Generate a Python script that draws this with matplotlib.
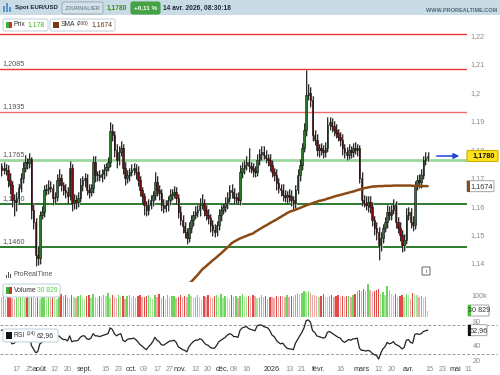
import numpy as np
import pandas as pd
import matplotlib.pyplot as plt
from matplotlib.patches import Rectangle, FancyBboxPatch, FancyArrowPatch
from matplotlib.transforms import IdentityTransform

plt.rcParams['font.family'] = ['Liberation Sans', 'DejaVu Sans']

# Daily EUR/USD closes (jul 2025 -> 14 apr 2026)
close = [
    1.1731, 1.1738, 1.1731, 1.1696, 1.1678, 1.1625, 1.1618, 1.1632, 1.1667, 1.1703,
    1.1738, 1.1759, 1.1755, 1.1768, 1.1590, 1.1548, 1.1432, 1.1421, 1.1572, 1.1583,
    1.1660, 1.1665, 1.1671, 1.1667, 1.1632, 1.1636, 1.1696, 1.1703, 1.1678, 1.1660,
    1.1653, 1.1639, 1.1738, 1.1615, 1.1625, 1.1618, 1.1632, 1.1678, 1.1696, 1.1703,
    1.1660, 1.1653, 1.1667, 1.1759, 1.1713, 1.1713, 1.1706, 1.1718, 1.1731, 1.1741,
    1.1759, 1.1868, 1.1854, 1.1801, 1.1766, 1.1794, 1.1808, 1.1738, 1.1703, 1.1713,
    1.1724, 1.1731, 1.1738, 1.1724, 1.1696, 1.1660, 1.1639, 1.1608,
    1.1590, 1.1608, 1.1625, 1.1643, 1.1689, 1.1660, 1.1650, 1.1608, 1.1597, 1.1608,
    1.1625, 1.1643, 1.1648, 1.1653, 1.1632, 1.1583, 1.1555, 1.1534, 1.1513, 1.1491,
    1.1527, 1.1555, 1.1572, 1.1583, 1.1590, 1.1608, 1.1615, 1.1590, 1.1572, 1.1562,
    1.1537, 1.1520, 1.1513, 1.1537, 1.1572, 1.1590, 1.1601, 1.1615, 1.1632, 1.1660,
    1.1653, 1.1632, 1.1632, 1.1625, 1.1724, 1.1738, 1.1748, 1.1759, 1.1745, 1.1738,
    1.1731, 1.1724, 1.1766, 1.1787, 1.1794, 1.1784, 1.1773, 1.1766, 1.1748, 1.1724,
    1.1713, 1.1685, 1.1667, 1.1660, 1.1643, 1.1636, 1.1643, 1.1639,
    1.1625, 1.1615, 1.1660, 1.1713, 1.1748, 1.1808, 1.1871, 1.1994, 1.2002, 1.1977,
    1.1854, 1.1836, 1.1801, 1.1808, 1.1800, 1.1794, 1.1808, 1.1889, 1.1900, 1.1885,
    1.1871, 1.1861, 1.1847, 1.1836, 1.1808, 1.1794, 1.1784, 1.1801, 1.1794, 1.1808,
    1.1801, 1.1808, 1.1703, 1.1625, 1.1615, 1.1608, 1.1618, 1.1601, 1.1555, 1.1527,
    1.1513, 1.1467, 1.1491, 1.1527, 1.1548, 1.1583, 1.1572, 1.1590, 1.1608, 1.1548,
    1.1527, 1.1502, 1.1467, 1.1484, 1.1572, 1.1583, 1.1548, 1.1537, 1.1678, 1.1696,
    1.1689, 1.1713, 1.1766, 1.1773, 1.1780,
]
first_open = 1.1745

# upper / lower wick lengths in pips
up_wick = [
    12, 20, 15, 18, 25, 15, 20, 22, 15, 18,
    20, 25, 15, 22, 10, 20, 15, 30, 15, 20,
    18, 15, 25, 22, 15, 18, 20, 30, 15, 12, 20,
    18, 25, 15, 20, 18, 22, 25, 15, 18, 12,
    20, 15, 20, 22, 15, 18, 15, 20, 15, 18, 30,
    25, 15, 20, 22, 25, 15, 20, 18, 15, 20,
    18, 15, 20, 15, 12, 10,
    15, 20, 18, 15, 35, 20, 18, 15, 20, 18,
    15, 20, 15, 22, 18, 15, 20, 18, 15, 12, 20,
    18, 15, 20, 18, 25, 30, 15, 18, 20, 15,
    18, 20, 15, 20, 18, 15, 20, 22, 18, 20,
    15, 18, 20, 25, 22, 18, 20, 49, 15, 18, 15,
    20, 18, 22, 20, 18, 15, 20, 18, 15, 20,
    18, 15, 20, 18, 15, 20,
    20, 15, 18, 20, 22, 18, 25, 88, 30, 20,
    15, 18, 20, 15, 18, 18, 20, 28, 17, 15, 18,
    20, 15, 18, 20, 15, 18, 20, 15, 18, 20,
    15, 10, 20, 18, 25, 20, 22, 18, 15, 20,
    18, 20, 15, 18, 25, 20, 18, 22, 15, 18, 20,
    18, 20, 25, 18, 15, 20, 15, 18, 20, 22,
    15, 20, 15,
]
dn_wick = [
    20, 15, 18, 25, 30, 25, 50, 30, 20, 15,
    18, 15, 20, 18, 30, 25, 40, 25, 20, 15,
    18, 18, 20, 15, 25, 18, 15, 20, 22, 18, 20,
    25, 15, 30, 20, 25, 18, 15, 20, 25, 18,
    20, 15, 18, 25, 20, 15, 18, 18, 20, 15, 18,
    20, 25, 30, 18, 15, 22, 25, 18, 20, 15,
    18, 25, 20, 22, 25, 35,
    20, 18, 15, 22, 18, 20, 25, 20, 18, 15,
    20, 18, 18, 15, 22, 20, 18, 25, 20, 22, 15,
    18, 20, 15, 18, 20, 15, 22, 18, 20, 25,
    20, 18, 15, 18, 20, 15, 18, 20, 15, 22,
    20, 18, 15, 18, 20, 22, 18, 20, 18, 25, 18,
    15, 18, 20, 15, 18, 20, 22, 18, 20, 25,
    18, 20, 22, 18, 20, 22,
    22, 20, 18, 15, 20, 18, 15, 20, 18, 25,
    20, 18, 22, 25, 18, 20, 18, 15, 18, 20, 22,
    18, 15, 20, 25, 22, 18, 15, 20, 18, 15,
    20, 18, 20, 15, 18, 25, 20, 22, 25, 30,
    53, 20, 18, 15, 20, 18, 18, 15, 20, 18, 20,
    25, 22, 15, 18, 20, 22, 15, 18, 20, 22,
    15, 18, 12,
]

# volume in thousands
volume = [
    96, 104, 88, 100, 108, 92, 84, 102, 95, 106,
    99, 90, 103, 96, 110, 104, 92, 106, 88, 99,
    101, 94, 105, 90, 100, 97, 86, 93, 108, 99,
    103, 95, 91, 104, 97, 89, 100, 106, 95, 87,
    99, 103, 92, 108, 96, 90, 100, 94, 106, 99,
    112, 92, 103, 97, 90, 105, 96, 101, 88, 99,
    106, 95, 102, 91, 98, 104, 93, 97,
    99, 105, 95, 88, 103, 97, 108, 92, 100, 86,
    104, 96, 99, 102, 90, 97, 107, 94, 101, 93,
    108, 98, 89, 96, 104, 95, 87, 101, 93, 106,
    97, 90, 99, 103, 95, 109, 92, 100, 97, 86,
    104, 95, 99, 90, 102, 110, 97, 93, 101, 96,
    105, 99, 91, 97, 103, 95, 100, 88, 97, 94,
    92, 101, 96, 100, 98, 94, 103, 97,
    101, 96, 106, 114, 110, 116, 122, 118, 124, 112,
    106, 103, 100, 97, 101, 108, 96, 95, 100, 104,
    94, 99, 104, 96, 102, 93, 98, 101, 96, 105,
    108, 126, 130, 124, 132, 122, 158, 128, 117, 123,
    128, 134, 110, 119, 104, 150, 127, 110, 100, 108,
    95, 100, 104, 97, 108, 103, 88, 112, 109, 104,
    97, 101, 89, 96, 30.829,
]

rsi = [
    63, 62, 58, 52, 48, 44, 45, 48, 52, 56,
    59, 61, 60, 63, 42, 37, 32, 33, 44, 46,
    51, 52, 52, 52, 49, 49, 54, 55, 52, 50, 50,
    48, 55, 47, 48, 48, 49, 53, 55, 55, 51,
    50, 52, 58, 55, 55, 54, 55, 56, 57, 58, 66,
    64, 58, 55, 57, 58, 49, 47, 50, 51, 51,
    52, 50, 47, 43, 41, 38,
    36, 40, 43, 47, 53, 49, 47, 43, 42, 44,
    46, 48, 48, 49, 46, 40, 38, 36, 35, 33, 40,
    44, 47, 49, 49, 51, 50, 46, 43, 42, 39,
    38, 38, 42, 47, 49, 51, 53, 56, 58, 57,
    54, 54, 53, 63, 66, 67, 68, 65, 64, 63, 62,
    69, 70, 70, 68, 67, 66, 62, 56, 54, 49,
    46, 44, 45, 41, 38, 37,
    37, 36, 45, 50, 55, 60, 66, 76, 77, 74,
    62, 60, 55, 54, 53, 52, 53, 60, 61, 59, 57,
    55, 53, 52, 48, 46, 48, 50, 49, 51, 51,
    52, 38, 35, 35, 34, 35, 34, 31, 29, 28,
    23, 31, 37, 40, 46, 44, 45, 47, 43, 42, 40,
    37, 39, 49, 50, 46, 45, 57, 58, 57, 58,
    61, 62, 62.96,
]

# SMA(200), visible part only (last 114 sessions)
sma_vals = [
    1.1326, 1.1332, 1.1337, 1.1345, 1.1353, 1.1361, 1.1370, 1.1379, 1.1386, 1.1392,
    1.1399, 1.1405, 1.1412, 1.1418, 1.1424, 1.1431, 1.1437, 1.1444, 1.1451, 1.1458,
    1.1465, 1.1473, 1.1478, 1.1482, 1.1486, 1.1490, 1.1493, 1.1496, 1.1499, 1.1502, 1.1505,
    1.1507, 1.1513, 1.1517, 1.1522, 1.1526, 1.1531, 1.1535, 1.1539, 1.1544, 1.1548,
    1.1552, 1.1556, 1.1561, 1.1565, 1.1570, 1.1574, 1.1579, 1.1583, 1.1586, 1.1588,
    1.1591, 1.1594, 1.1597, 1.1600, 1.1603, 1.1606, 1.1609, 1.1611, 1.1614, 1.1617,
    1.1619, 1.1622, 1.1623, 1.1625, 1.1627, 1.1630, 1.1632, 1.1634, 1.1637, 1.1639, 1.1641,
    1.1643, 1.1645, 1.1647, 1.1649, 1.1651, 1.1653, 1.1655, 1.1657, 1.1660, 1.1662,
    1.1664, 1.1666, 1.1668, 1.1669, 1.1671, 1.1672, 1.1673, 1.1673, 1.1674, 1.1674,
    1.1674, 1.1675, 1.1675, 1.1675, 1.1675, 1.1676, 1.1676, 1.1676, 1.1676, 1.1676,
    1.1676, 1.1676, 1.1676, 1.1676, 1.1675,
    1.1675, 1.1675, 1.1675, 1.1674, 1.1674, 1.1674, 1.1674,
]

# horizontal levels drawn on the chart
levels = [1.2210, 1.2085, 1.1935, 1.1765, 1.1610, 1.1460]
level_labels = ['', '1,2085', '1,1935', '1,1765', '1,1610', '1,1460']
level_colors = ['#e8383a', '#e8383a', '#f06a6a', '#9ad89a', '#1f6e1f', '#1f6e1f']
level_widths = [1.0, 1.0, 1.0, 2.0, 1.3, 1.3]

price_ticks = [1.14, 1.15, 1.16, 1.17, 1.18, 1.19, 1.20, 1.21, 1.22]
price_tick_labels = ['1,14', '1,15', '1,16', '1,17', '1,18', '1,19', '1,2', '1,21', '1,22']

date_ticks = ['2025-07-17', '2025-07-25', '2025-08-01', '2025-08-12', '2025-08-20',
              '2025-09-01', '2025-09-15', '2025-09-23', '2025-10-01', '2025-10-09',
              '2025-10-17', '2025-10-27', '2025-11-03', '2025-11-12', '2025-11-20',
              '2025-12-01', '2025-12-08', '2025-12-16', '2026-01-01', '2026-01-13',
              '2026-01-21', '2026-02-02', '2026-02-16', '2026-03-02', '2026-03-12',
              '2026-03-20', '2026-04-01', '2026-04-15', '2026-04-23', '2026-05-01',
              '2026-05-11']
date_labels = ['17', '25', 'août', '12', '20', 'sept.', '15', '23', 'oct.', '09',
               '17', '27', 'nov.', '12', '20', 'déc.', '08', '16', '2026', '13',
               '21', 'févr.', '16', 'mars', '12', '20', 'avr.', '15', '23', 'mai', '11']
month_names = {'août', 'sept.', 'oct.', 'nov.', 'déc.', '2026', 'févr.', 'mars', 'avr.', 'mai'}

# ---------------------------------------------------------------
close = np.array(close)
n = len(close)
opens = np.r_[first_open, close[:-1]]
highs = np.maximum(opens, close) + np.array(up_wick) / 10000
lows = np.minimum(opens, close) - np.array(dn_wick) / 10000
volume = np.array(volume, dtype=float)
rsi = np.array(rsi, dtype=float)
sma = np.r_[np.full(n - len(sma_vals), np.nan), sma_vals]
x = np.arange(n)

sessions = pd.bdate_range(end='2026-04-14', periods=n)
calendar = pd.bdate_range(start=sessions[0], end='2026-05-29')

W, H = 500, 375
PX = IdentityTransform()
FS = 5.2      # axis text size
fig = plt.figure(figsize=(5, 3.75), dpi=100)

x_left, x_right = -0.7, 218.5
ax = fig.add_axes([0, (H - 282) / H, 467 / W, (282 - 16) / H])
axv = fig.add_axes([0, (H - 318) / H, 467 / W, 36 / H])
axr = fig.add_axes([0, (H - 362) / H, 467 / W, 44 / H])
for a in (ax, axv, axr):
    a.set_xlim(x_left, x_right)
    a.set_xticks([])
    a.set_yticks([])
    for s in a.spines.values():
        s.set_visible(False)
    a.patch.set_alpha(0)

ax.set_ylim(1.13367, 1.22724)
axv.set_ylim(-4.8, 166.7)
axr.set_ylim(18.97, 79.66)

# header bar
fig.add_artist(Rectangle((0, H - 15), W, 15, transform=PX, fc='#c9dbe5', ec='none', zorder=1))


def rbox(x0, y0, x1, y1, fc='white', ec='#c5d5de', r=2, lw=0.8, z=5):
    fig.add_artist(FancyBboxPatch((x0, H - y1), x1 - x0, y1 - y0,
                                  boxstyle=f'round,pad=0,rounding_size={r}',
                                  fc=fc, ec=ec, lw=lw, transform=PX, zorder=z))


def rect(x0, y0, x1, y1, color, z=6):
    fig.add_artist(Rectangle((x0, H - y1), x1 - x0, y1 - y0, transform=PX,
                             fc=color, ec='none', zorder=z))


def t(xp, yp, s, size=FS, color='#333333', z=7, **kw):
    fig.text(xp, H - yp, s, transform=PX, fontsize=size, color=color,
             va='center', zorder=z, **kw)


# header contents
for bx, h in [(3, 6), (6, 9), (9, 5)]:
    rect(bx, 12 - h, bx + 2, 12, '#5a94c8')
t(15, 8, 'Spot EUR/USD', size=4.4, color='#1d2b38', weight='bold')
rbox(62, 2, 103, 14, fc='#d3e1e9', ec='#9fb3c0')
t(82.5, 8.3, 'JOURNALIER', size=4.0, color='#7b8d9a', ha='center', weight='bold')
t(107, 8, '1,1780', size=4.8, color='#3c8c1c', weight='bold')
rbox(131, 2, 160, 14, fc='#45a345', ec='#45a345')
t(145.5, 8, '+0,11 %', size=4.6, color='white', ha='center', weight='bold')
t(163, 8, '14 avr. 2026, 08:30:18', size=4.8, color='#1d2b38', weight='bold')
t(497, 10, 'WWW.PROREALTIME.COM', size=4.0, color='#51687a', ha='right', weight='bold')

# legend boxes
rbox(3, 19, 48, 31)
rect(6, 22, 9, 28, '#37b037')
rect(9, 22, 12, 28, '#d23030')
t(14, 25, 'Prix', size=4.9, color='#333')
t(27, 25, '1,178', size=4.9, color='#3cae1c')
rbox(50, 19, 115, 31)
rect(53, 22, 59, 28, '#7a3a10')
t(61, 25, 'SMA', size=4.9, color='#333')
t(76.5, 23.5, '(200)', size=3.6, color='#333')
t(91.5, 25, '1,1674', size=4.9, color='#5a3010')

rbox(3, 284, 60, 297)
rect(6, 287, 9, 294, '#37b037')
rect(9, 287, 12, 294, '#d23030')
t(14, 290.5, 'Volume', size=4.9, color='#333')
t(37, 290.5, '30 829', size=4.9, color='#5ad04a')

rbox(3, 329, 58, 342)
rect(6, 332, 12, 339, '#111111')
t(14, 335.5, 'RSI', size=4.9, color='#333')
t(26.5, 334, '(14)', size=3.6, color='#333')
t(37, 335.5, '62,96', size=4.9, color='#333')

# watermark + info icon
for bx, h in [(6, 3), (8, 6), (10, 4)]:
    rect(bx, 278 - h, bx + 1, 278, '#555555', z=2)
t(13, 275, 'ProRealTime', size=4.9, color='#555', z=2)
rbox(422, 267, 430, 275, fc='white', ec='#666', r=0.5, lw=0.7, z=2)
t(426, 271.3, 'i', size=4.2, color='#444', ha='center', z=3)

# levels
for lvl, lab, col, lw in zip(levels, level_labels, level_colors, level_widths):
    ax.axhline(lvl, color=col, lw=lw, zorder=1)
    if lab:
        ax.annotate(lab, xy=(0.006, lvl), xycoords=ax.get_yaxis_transform(),
                    xytext=(0, 1.5), textcoords='offset points', va='bottom',
                    fontsize=FS, color='#555', zorder=1)

# candles
up = close >= opens
ax.vlines(x + 0.45, lows, highs, color='#b8b8b8', lw=1.3, zorder=2)
ax.vlines(x, lows, highs, color='#111111', lw=0.6, zorder=3)
body = np.where(np.abs(close - opens) < 0.0002, 0.0002, close - opens)
ax.bar(x, body, bottom=opens, width=0.7, color=np.where(up, '#2a7a2a', '#7d0a0a'),
       edgecolor='#111111', linewidth=0.4, zorder=4)

ax.plot(x, sma, color='#8a4a16', lw=1.8, zorder=5, solid_capstyle='round')

# price scale on the right
for v, lab in zip(price_ticks, price_tick_labels):
    ax.text(1.008, v, lab, transform=ax.get_yaxis_transform(), fontsize=FS,
            color='#8a8a8a', va='center', ha='left', clip_on=False)

# volume
prev = np.r_[volume[0], volume[:-1]]
vcol = np.where(up, np.where(volume > prev, '#6ad65a', '#a6e69a'),
                np.where(volume > prev, '#e24a4a', '#eea6a6'))
axv.bar(x, volume, width=0.65, color=vcol, zorder=2)
axv.text(1.01, 100, '100k', transform=axv.get_yaxis_transform(), fontsize=FS,
         color='#8a8a8a', va='center', ha='left')

# RSI
for lvl in (70, 30):
    axr.axhline(lvl, xmax=1.065, color='#9a9a9a', lw=0.7, ls=(0, (3, 2)), clip_on=False, zorder=1)
axr.plot(x, rsi, color='#222222', lw=0.9, zorder=3)
for v, lab in [(40, '40'), (20, '20'), (73.5, '80')]:
    axr.text(1.012, v, lab, transform=axr.get_yaxis_transform(), fontsize=FS,
             color='#8a8a8a', va='center', ha='left')

# date axis
for d, lab in zip(date_ticks, date_labels):
    pos = calendar.get_loc(pd.Timestamp(d))
    axr.text(pos, -0.16, lab, transform=axr.get_xaxis_transform(), ha='center',
             va='center', fontsize=FS, color='#333' if lab in month_names else '#8a8a8a')


# value boxes on the right edge
def side_box(a, val, txt, bar, x0, x1, fc='white', ec='#b0b0b0', weight='normal', tc='#333'):
    yd = a.transData.transform((0, val))[1]
    yi = H - yd
    rbox(x0, yi - 5.5, x1, yi + 5.5, fc=fc, ec=ec, r=1, lw=0.8, z=8)
    if bar:
        rect(x0, yi - 5.5, x0 + 2.5, yi + 5.5, bar, z=9)
    t((x0 + x1) / 2 + 1, yi + 0.3, txt, size=FS, color=tc, ha='center', weight=weight, z=10)
    return yd


yd = side_box(ax, close[-1], '1,1780', None, 467, 498, fc='#ffe21a', ec='#c9b000', weight='bold', tc='#111')
side_box(ax, sma[-1], '1,1674', '#8a4a16', 467, 494)
side_box(axv, volume[-1], '30 829', '#45c035', 468, 489)
side_box(axr, rsi[-1], '62,96', '#111111', 468, 487)

fig.add_artist(FancyArrowPatch((434, yd), (462, yd), transform=PX, arrowstyle='-|>',
                               mutation_scale=8, color='#2242dd', lw=1.1, zorder=8))

fig.savefig('out.png', dpi=100, facecolor='white')
